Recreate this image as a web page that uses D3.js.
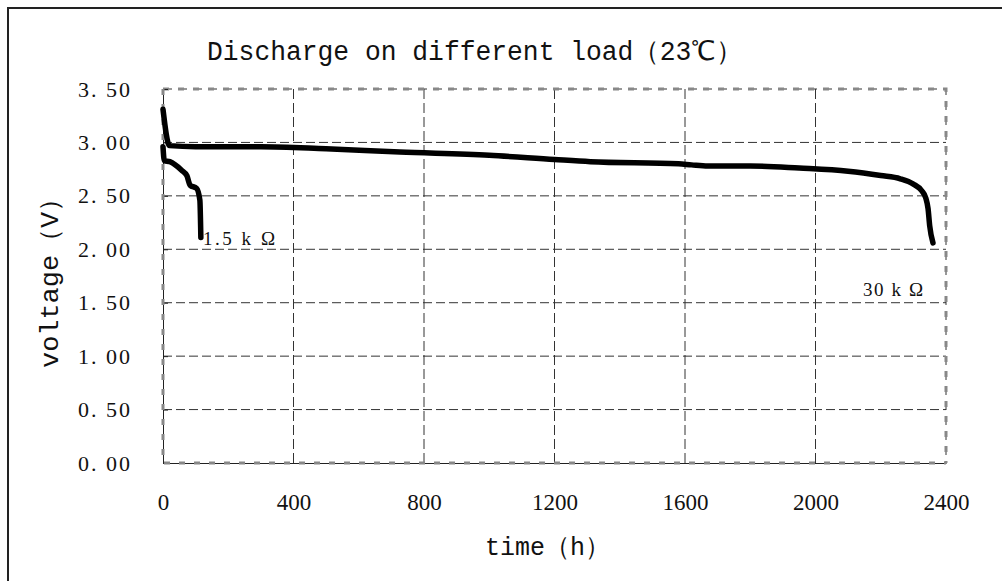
<!DOCTYPE html>
<html><head><meta charset="utf-8">
<script src="https://cdn.jsdelivr.net/npm/d3@7"></script>
<style>
body{margin:0;background:#fff;}
svg{display:block;}
text{font-family:"Liberation Serif","Times New Roman",serif;fill:#111;}
.mono{font-family:"Liberation Mono","DejaVu Sans Mono",monospace;}
</style></head>
<body>
<script>
// ---- data ----
const xTicks = [0, 400, 800, 1200, 1600, 2000, 2400];
const yTicks = [0, 0.5, 1.0, 1.5, 2.0, 2.5, 3.0, 3.5];
const yTickLabels = ["0. 00","0. 50","1. 00","1. 50","2. 00","2. 50","3. 00","3. 50"];
const time30k = [0, 20, 100, 300, 500, 726, 1000, 1200, 1310, 1580, 1620, 1670, 1800, 1950, 2100, 2200, 2260, 2300, 2325, 2338, 2345, 2350, 2360];
const volt30k = [3.31, 2.97, 2.96, 2.96, 2.94, 2.91, 2.88, 2.84, 2.82, 2.80, 2.79, 2.78, 2.78, 2.76, 2.73, 2.69, 2.66, 2.61, 2.55, 2.48, 2.38, 2.22, 2.06];
const time1k5 = [0, 4, 21, 57, 73, 83, 103, 113, 116];
const volt1k5 = [2.96, 2.83, 2.82, 2.74, 2.69, 2.60, 2.57, 2.46, 2.11];
const titleText = "Discharge on different load（23℃）";
const xLabel = "time（h）";
const yLabel = "voltage（V）";
const label30k = "30 k Ω";
const label1k5 = "1.5 k Ω";

const W = 1002, H = 581;
const svg = d3.select("body").append("svg").attr("width", W).attr("height", H);

svg.append("rect").attr("x", 8).attr("y", 8).attr("width", 1100).attr("height", 700)
  .attr("fill", "none").attr("stroke", "#222").attr("stroke-width", 2);

const x = d3.scaleLinear().domain([0, 2400]).range([163, 946]);
const y = d3.scaleLinear().domain([0, 3.5]).range([463, 89]);

const g = svg.append("g");
g.selectAll(".hg").data(yTicks.filter(v => v > 0 && v < 3.5)).join("line")
  .attr("x1", x(0)).attr("x2", x(2400)).attr("y1", d => y(d)).attr("y2", d => y(d))
  .attr("stroke", "#333").attr("stroke-width", 1).attr("stroke-dasharray", "9,4");
g.selectAll(".vg").data(xTicks.filter(v => v > 0 && v < 2400)).join("line")
  .attr("y1", y(3.5)).attr("y2", y(0)).attr("x1", d => x(d)).attr("x2", d => x(d))
  .attr("stroke", "#333").attr("stroke-width", 1).attr("stroke-dasharray", "10,4");

svg.append("path").attr("d", `M${x(0)},${y(3.5)}H${x(2400)}V${y(0)}`)
  .attr("fill", "none").attr("stroke", "#333").attr("stroke-width", 1).attr("stroke-dasharray", "9,6");
svg.append("path").attr("d", `M${x(0)},${y(3.5)}H${x(2400)}V${y(0)}`)
  .attr("fill", "none").attr("stroke", "#888").attr("stroke-width", 3).attr("stroke-dasharray", "6,9");

const yAxis = d3.axisLeft(y).tickValues(yTicks).tickFormat((d, i) => yTickLabels[i])
  .tickSizeInner(-5).tickSizeOuter(0).tickPadding(33);
const ya = svg.append("g").attr("transform", `translate(${x(0)},0)`).call(yAxis);
ya.select(".domain").attr("stroke", "#222").attr("stroke-width", 1);
ya.selectAll(".tick line").attr("stroke", "#222");
ya.selectAll("text").attr("font-size", 22).attr("font-family", "Liberation Serif").attr("fill", "#111")
  .attr("textLength", 52).attr("lengthAdjust", "spacing");

const xAxis = d3.axisBottom(x).tickValues(xTicks).tickFormat(d3.format("d"))
  .tickSizeInner(0).tickSizeOuter(0).tickPadding(31);
const xa = svg.append("g").attr("transform", `translate(0,${y(0)})`).call(xAxis);
xa.select(".domain").attr("stroke", "#222").attr("stroke-width", 1);
xa.selectAll("text").attr("font-size", 23).attr("font-family", "Liberation Serif").attr("fill", "#111");

svg.append("path").attr("d", `M${x(0)},${y(3.5)}V${y(0)}H${x(2400)}`)
  .attr("fill", "none").attr("stroke", "#888").attr("stroke-width", 3).attr("stroke-dasharray", "6,9");

const line = d3.line().x(d => x(d[0])).y(d => y(d[1])).curve(d3.curveMonotoneX);
const d30 = time30k.map((t, i) => [t, volt30k[i]]);
const d15 = time1k5.map((t, i) => [t, volt1k5[i]]);
[d15, d30].forEach(d => {
  svg.append("path").datum(d).attr("d", line).attr("fill", "none")
    .attr("stroke", "#000").attr("stroke-width", 5.5)
    .attr("stroke-linejoin", "round").attr("stroke-linecap", "round");
});

svg.append("text").attr("x", 203).attr("y", 245).attr("font-size", 19)
  .attr("textLength", 72).attr("lengthAdjust", "spacing").text(label1k5);
svg.append("text").attr("x", 863).attr("y", 296).attr("font-size", 19)
  .attr("textLength", 60).attr("lengthAdjust", "spacing").text(label30k);

svg.append("text").attr("class", "mono").attr("x", 207).attr("y", 60).attr("font-size", 27)
  .attr("textLength", 535).attr("lengthAdjust", "spacingAndGlyphs").text(titleText);
svg.append("text").attr("class", "mono").attr("x", 485).attr("y", 555).attr("font-size", 26)
  .attr("textLength", 125).attr("lengthAdjust", "spacingAndGlyphs").text(xLabel);
svg.append("text").attr("class", "mono").attr("transform", "translate(58,368) rotate(-90)").attr("font-size", 26)
  .attr("textLength", 183).attr("lengthAdjust", "spacingAndGlyphs").text(yLabel);
</script>
</body></html>
